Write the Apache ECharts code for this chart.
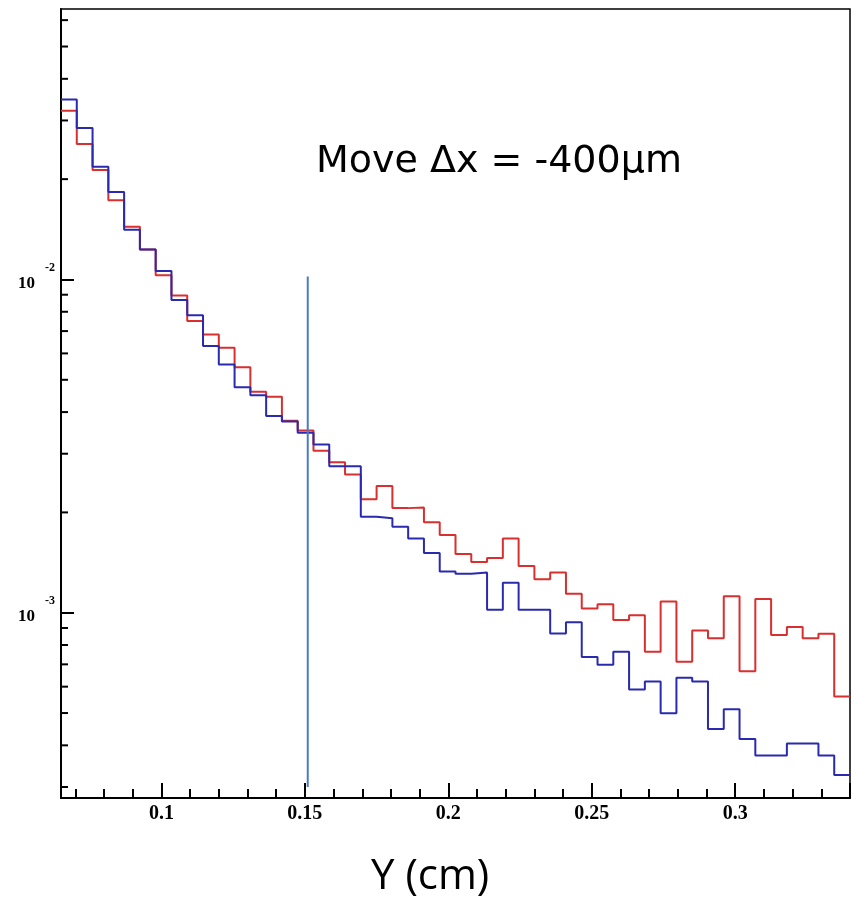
<!DOCTYPE html>
<html>
<head>
<meta charset="utf-8">
<script src="https://cdn.jsdelivr.net/npm/echarts@6/dist/echarts.min.js"></script>
<style>
  html, body { margin: 0; padding: 0; background: #fff; }
  #chart { width: 852px; height: 906px; }
</style>
</head>
<body>
<div id="chart"></div>
<script>
// ---- data ----
const binStart = 0.065;
const binWidth = 0.0055;
const xMin = 0.065;
const xMax = 0.34;
const yMin = 0.000278;
const yMax = 0.0648;

// red histogram (per bin)
const redValues = [0.0321,0.0255,0.0213,0.0173,0.0144,0.0123,0.0103,0.00895,0.0075,0.00684,
  0.00624,0.00545,0.0046,0.00445,0.00377,0.00352,0.00306,0.00283,0.0026,0.00219,
  0.0024,0.00206,0.00207,0.00187,0.00171,0.0015,0.00142,0.00146,0.00167,0.00138,
  0.00126,0.00132,0.00114,0.00103,0.00106,0.000951,0.000982,0.000764,0.00108,0.000713,
  0.000885,0.000839,0.00112,0.000667,0.0011,0.000857,0.000906,0.000839,0.000865,0.000561];

// blue histogram (per bin)
const blueValues = [0.0347,0.0285,0.0218,0.0183,0.0141,0.0123,0.0106,0.00867,0.00781,0.00631,
  0.00556,0.00475,0.00449,0.00389,0.00375,0.00347,0.0032,0.00275,0.00275,0.00194,
  0.00192,0.00181,0.00167,0.00151,0.00133,0.00131,0.00132,0.00102,0.00123,0.00102,
  0.00102,0.000866,0.000936,0.000736,0.000698,0.000764,0.000588,0.000622,0.000499,0.000638,
  0.000622,0.000448,0.000513,0.000418,0.000373,0.000373,0.000405,0.000405,0.000373,0.000326];

// vertical cut line
const cutX = 0.151;
const cutYRange = [0.0003, 0.0102];

// y-axis minor tick values (log decades 2..9)
const yMinorTicks = [0.0003,0.0004,0.0005,0.0006,0.0007,0.0008,0.0009,
  0.002,0.003,0.004,0.005,0.006,0.007,0.008,0.009,
  0.02,0.03,0.04,0.05,0.06];

const annotation = 'Move \u0394x = -400\u03bcm';
const xTitle = 'Y (cm)';

// ---- build ----
function histPoints(vals) {
  const pts = vals.map((v, i) => [binStart + i * binWidth, v]);
  pts.push([binStart + vals.length * binWidth, vals[vals.length - 1]]);
  return pts;
}

const chart = echarts.init(document.getElementById('chart'), null, { renderer: 'canvas' });
const labelFont = '"Liberation Serif", "Times New Roman", serif';

const option = {
  animation: false,
  backgroundColor: '#fff',
  grid: { left: 61, right: 2, top: 9, bottom: 108, show: true, borderColor: '#000', borderWidth: 1.5, backgroundColor: 'transparent' },
  xAxis: {
    type: 'value', min: xMin, max: xMax, splitNumber: 5,
    axisLine: { show: true, onZero: false, lineStyle: { color: '#000', width: 2 } },
    axisTick: { show: true, inside: true, length: 15, lineStyle: { color: '#000', width: 2 } },
    minorTick: { show: true, splitNumber: 5, length: 9, lineStyle: { color: '#000', width: 2 } },
    splitLine: { show: false },
    axisLabel: { showMinLabel: false, showMaxLabel: false, margin: 6, color: '#000', fontFamily: labelFont, fontWeight: 'bold', fontSize: 20 }
  },
  yAxis: {
    type: 'log', logBase: 10, min: yMin, max: yMax,
    axisLine: { show: true, onZero: false, lineStyle: { color: '#000', width: 2 } },
    axisTick: { show: true, inside: true, length: 13, lineStyle: { color: '#000', width: 2 } },
    minorTick: { show: false },
    splitLine: { show: false },
    axisLabel: {
      showMinLabel: false, showMaxLabel: false, margin: 6,
      fontFamily: labelFont, fontWeight: 'bold', fontSize: 17, color: '#000',
      padding: [0, 0, 5, 0],
      formatter: function (v) { const e = Math.round(Math.log10(v)); return '{b|10}{s|' + e + '}'; },
      rich: {
        b: { fontFamily: labelFont, fontWeight: 'bold', fontSize: 17, color: '#000', lineHeight: 30, verticalAlign: 'bottom' },
        s: { fontFamily: labelFont, fontWeight: 'bold', fontSize: 12, color: '#000', verticalAlign: 'top', padding: [0, 0, 0, 10] }
      }
    }
  },
  series: [
    {
      type: 'custom', name: 'yMinor', silent: true, clip: false,
      data: yMinorTicks.map(v => [xMin, v]),
      encode: { x: 0, y: 1 },
      renderItem: function (params, api) {
        const p = api.coord([api.value(0), api.value(1)]);
        return { type: 'line', shape: { x1: p[0], y1: p[1], x2: p[0] + 7, y2: p[1] }, style: { stroke: '#000', lineWidth: 2 } };
      }
    },
    {
      type: 'line', name: 'red', step: 'end', showSymbol: false, symbol: 'none',
      data: histPoints(redValues),
      lineStyle: { color: '#d92f2f', width: 2 }, itemStyle: { color: '#d92f2f' }, z: 3
    },
    {
      type: 'line', name: 'blue', step: 'end', showSymbol: false, symbol: 'none',
      data: histPoints(blueValues),
      lineStyle: { color: '#2a2ab0', width: 2 }, itemStyle: { color: '#2a2ab0' }, z: 4
    },
    {
      type: 'line', name: 'cut', showSymbol: false, symbol: 'none',
      data: [[cutX, cutYRange[0]], [cutX, cutYRange[1]]],
      lineStyle: { color: '#4a7bc9', width: 2 }, z: 5
    }
  ],
  graphic: [
    { type: 'text', left: 316, top: 143, style: { text: annotation, font: '38px "DejaVu Sans"', fill: '#000' } },
    { type: 'text', left: 371, top: 856, style: { text: xTitle, font: '42px "Open Sans"', fill: '#000' } }
  ]
};
chart.setOption(option);
</script>
</body>
</html>
